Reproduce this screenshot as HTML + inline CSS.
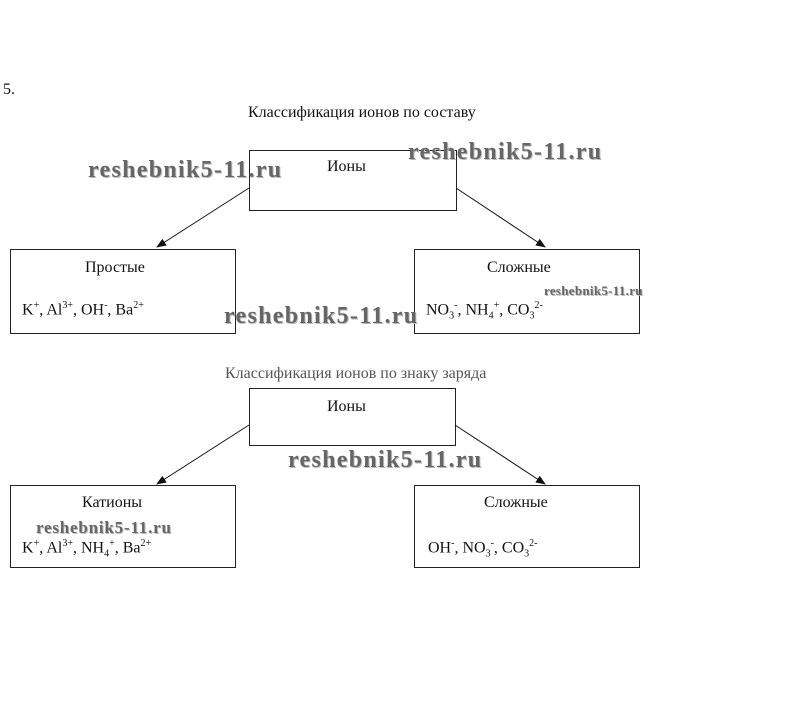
<!DOCTYPE html>
<html><head><meta charset="utf-8"><style>
body{margin:0;width:802px;height:706px;background:#fff;position:relative;overflow:hidden;font-family:"Liberation Serif",serif;color:#111}
.a{position:absolute;white-space:nowrap}
.b{position:absolute;border:1px solid #222;box-sizing:border-box}
.w{position:absolute;font-weight:bold;color:#666;font-size:24px;letter-spacing:1.3px;text-shadow:1px 1px 0 #bbb;white-space:nowrap}
.s{font-size:16px}
sup,sub{font-size:10px}
</style></head><body>
<div class="a s" style="left:3px;top:81px">5.</div>
<div class="a s" style="left:248px;top:104px">Классификация ионов по составу</div>
<div class="b" style="left:249px;top:150px;width:208px;height:61px"></div>
<div class="a s" style="left:327px;top:158px">Ионы</div>
<div class="b" style="left:10px;top:249px;width:226px;height:85px"></div>
<div class="a s" style="left:85px;top:259px">Простые</div>
<div class="a s" style="left:22px;top:300px">K<sup>+</sup>, Al<sup>3+</sup>, OH<sup>-</sup>, Ba<sup>2+</sup></div>
<div class="b" style="left:414px;top:249px;width:226px;height:85px"></div>
<div class="a s" style="left:487px;top:259px">Сложные</div>
<div class="a s" style="left:426px;top:300px">NO<sub>3</sub><sup>-</sup>, NH<sub>4</sub><sup>+</sup>, CO<sub>3</sub><sup>2-</sup></div>
<div class="a s" style="left:225px;top:365px;color:#555">Классификация ионов по знаку заряда</div>
<div class="b" style="left:249px;top:388px;width:207px;height:58px"></div>
<div class="a s" style="left:327px;top:398px">Ионы</div>
<div class="b" style="left:10px;top:485px;width:226px;height:83px"></div>
<div class="a s" style="left:82px;top:494px">Катионы</div>
<div class="a s" style="left:22px;top:538px">K<sup>+</sup>, Al<sup>3+</sup>, NH<sub>4</sub><sup>+</sup>, Ba<sup>2+</sup></div>
<div class="b" style="left:414px;top:485px;width:226px;height:83px"></div>
<div class="a s" style="left:484px;top:494px">Сложные</div>
<div class="a s" style="left:428px;top:538px">OH<sup>-</sup>, NO<sub>3</sub><sup>-</sup>, CO<sub>3</sub><sup>2-</sup></div>
<svg class="a" style="left:0;top:0" width="802" height="706">
<defs><marker id="m" markerWidth="10" markerHeight="8" refX="9" refY="4" orient="auto"><path d="M0,0L10,4L0,8z" fill="#111"/></marker></defs>
<g stroke="#111" stroke-width="1" marker-end="url(#m)">
<line x1="249" y1="188" x2="157" y2="247"/><line x1="456" y1="188" x2="545" y2="247"/>
<line x1="249" y1="425" x2="157" y2="484"/><line x1="455" y1="425" x2="545" y2="484"/>
</g></svg>
<div class="w" style="left:88px;top:157px">reshebnik5-11.ru</div>
<div class="w" style="left:408px;top:139px">reshebnik5-11.ru</div>
<div class="w" style="left:224px;top:303px">reshebnik5-11.ru</div>
<div class="w" style="left:288px;top:447px">reshebnik5-11.ru</div>
<div class="w" style="left:544px;top:283px;font-size:13px;letter-spacing:0.3px">reshebnik5-11.ru</div>
<div class="w" style="left:36px;top:518px;font-size:17px;letter-spacing:0.8px">reshebnik5-11.ru</div>
</body></html>
